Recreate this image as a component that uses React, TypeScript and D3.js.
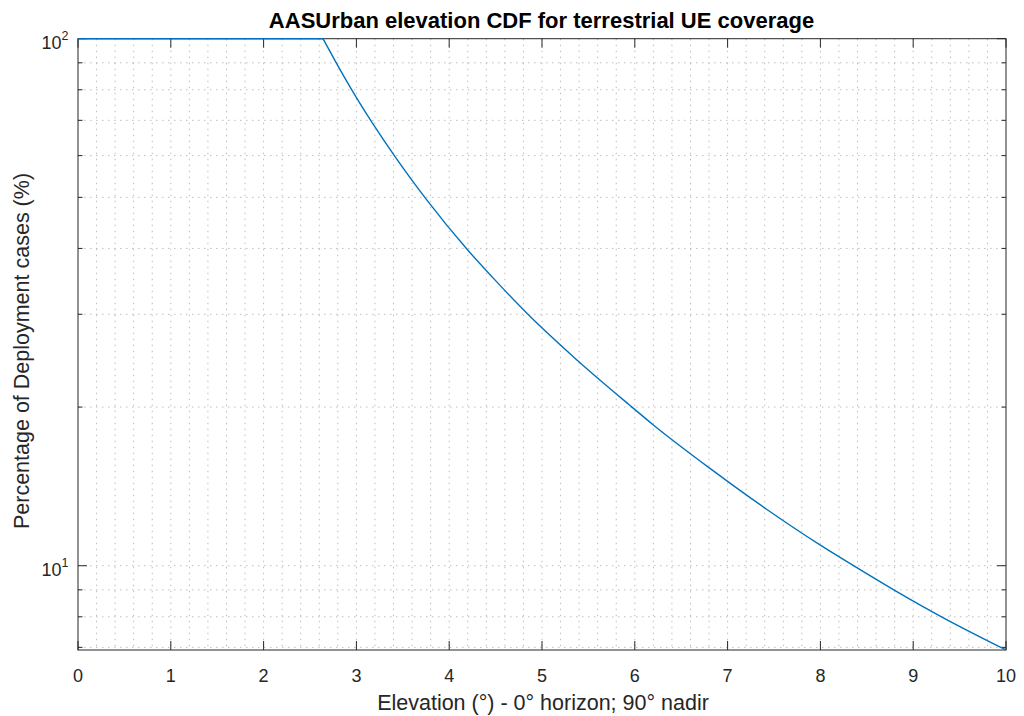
import React from 'react';
import * as d3 from 'd3';

// ---- data ----
const elevation = [0, 2.64, 2.78, 2.95, 3.17, 3.42, 3.76, 4.19, 4.51, 4.84, 5.34, 5.94, 6.2, 6.81, 7.42, 8.0, 8.37, 8.8, 9.31, 10];
const percentage = [100, 100, 90.2, 80.0, 69.3, 59.6, 49.4, 39.9, 34.6, 30.1, 24.9, 20.2, 18.5, 15.3, 12.8, 10.94, 9.97, 8.98, 7.99, 6.92];

const xTicks = [0, 1, 2, 3, 4, 5, 6, 7, 8, 9, 10];
const yMajorTicks = [10, 100];
const yMajorExponents = ['1', '2'];
const yMinorTicks = [7, 8, 9, 20, 30, 40, 50, 60, 70, 80, 90];
const xMinorStep = 0.2;

const titleText = 'AASUrban elevation CDF for terrestrial UE coverage';
const xLabelText = 'Elevation (°) - 0° horizon; 90° nadir';
const yLabelText = 'Percentage of Deployment cases (%)';

// ---- layout ----
const W = 1024;
const H = 716;
const L = 78;
const R = 1006;
const T = 38.7;
const B = 650;
const FONT = '"Liberation Sans", Arial, Helvetica, sans-serif';
const AX = '#262626';
const GRID = '#bdbdbd';
const LINE = '#0072BD';

export default function App() {
  const x = d3.scaleLinear().domain([0, 10]).range([L, R]);
  const yExt = d3.extent(percentage) as [number, number];
  const y = d3.scaleLog().domain(yExt).range([B, T]);

  const pts = elevation.map((e, i) => [e, percentage[i]] as [number, number]);
  const yMax = yExt[1];
  // last index of the flat part at the maximum
  let flatEnd = 0;
  pts.forEach((p, i) => {
    if (p[1] === yMax) flatEnd = i;
  });
  const flatPts = pts.slice(0, flatEnd + 1);
  const fallPts = pts.slice(flatEnd);

  const linear = d3
    .line<[number, number]>()
    .x((d) => x(d[0]))
    .y((d) => y(d[1]));
  const smooth = d3
    .line<[number, number]>()
    .x((d) => x(d[0]))
    .y((d) => y(d[1]))
    .curve(d3.curveMonotoneX);

  const nMinor = Math.round(10 / xMinorStep);
  const xGrid = d3.range(1, nMinor).map((i) => i * xMinorStep);
  const yGrid = [...yMinorTicks, ...yMajorTicks].filter((v) => v > yExt[0] && v < yExt[1]);

  const majorLen = 9;
  const minorLen = 4.5;

  return (
    <svg
      width={W}
      height={H}
      viewBox={`0 0 ${W} ${H}`}
      style={{ position: 'absolute', left: 0, top: 0, background: '#fff' }}
    >
      <rect x={0} y={0} width={W} height={H} fill="#fff" />
      {/* grid */}
      <g stroke={GRID} strokeWidth={1} strokeDasharray="1.5,4.5">
        {xGrid.map((v, i) => (
          <line key={'xg' + i} x1={x(v)} x2={x(v)} y1={T} y2={B} />
        ))}
        {yGrid.map((v, i) => (
          <line key={'yg' + i} x1={L} x2={R} y1={y(v)} y2={y(v)} />
        ))}
      </g>
      {/* ticks */}
      <g stroke={AX} strokeWidth={1}>
        {xTicks.map((v, i) => (
          <g key={'xt' + i}>
            <line x1={x(v)} x2={x(v)} y1={B} y2={B - majorLen} />
            <line x1={x(v)} x2={x(v)} y1={T} y2={T + majorLen} />
          </g>
        ))}
        {yMajorTicks.map((v, i) => (
          <g key={'ymt' + i}>
            <line x1={L} x2={L + majorLen} y1={y(v)} y2={y(v)} />
            <line x1={R} x2={R - majorLen} y1={y(v)} y2={y(v)} />
          </g>
        ))}
        {yMinorTicks
          .filter((v) => v >= yExt[0] && v <= yExt[1])
          .map((v, i) => (
            <g key={'ynt' + i}>
              <line x1={L} x2={L + minorLen} y1={y(v)} y2={y(v)} />
              <line x1={R} x2={R - minorLen} y1={y(v)} y2={y(v)} />
            </g>
          ))}
      </g>
      {/* box */}
      <rect x={L} y={T} width={R - L} height={B - T} fill="none" stroke={AX} strokeWidth={1} />
      {/* data line */}
      <path d={linear(flatPts) || ''} fill="none" stroke={LINE} strokeWidth={1.4} />
      <path d={smooth(fallPts) || ''} fill="none" stroke={LINE} strokeWidth={1.4} />
      {/* tick labels */}
      <g fontFamily={FONT} fill={AX} fontSize={18}>
        {xTicks.map((v, i) => (
          <text key={'xl' + i} x={x(v)} y={682} textAnchor="middle">
            {String(v)}
          </text>
        ))}
        {yMajorTicks.map((v, i) => (
          <text key={'yl' + i} x={68.5} y={y(v) + 10.7} textAnchor="end">
            <tspan>10</tspan>
            <tspan fontSize={12.5} dy={-9.5}>
              {yMajorExponents[i]}
            </tspan>
          </text>
        ))}
      </g>
      {/* labels */}
      <text x={543} y={710} textAnchor="middle" fontFamily={FONT} fontSize={21.5} fill={AX}>
        {xLabelText}
      </text>
      <text
        transform={`translate(29,351) rotate(-90)`}
        textAnchor="middle"
        fontFamily={FONT}
        fontSize={21.5}
        fill={AX}
      >
        {yLabelText}
      </text>
      <text x={541.5} y={28} textAnchor="middle" fontFamily={FONT} fontSize={22} fontWeight="bold" fill="#000">
        {titleText}
      </text>
    </svg>
  );
}
